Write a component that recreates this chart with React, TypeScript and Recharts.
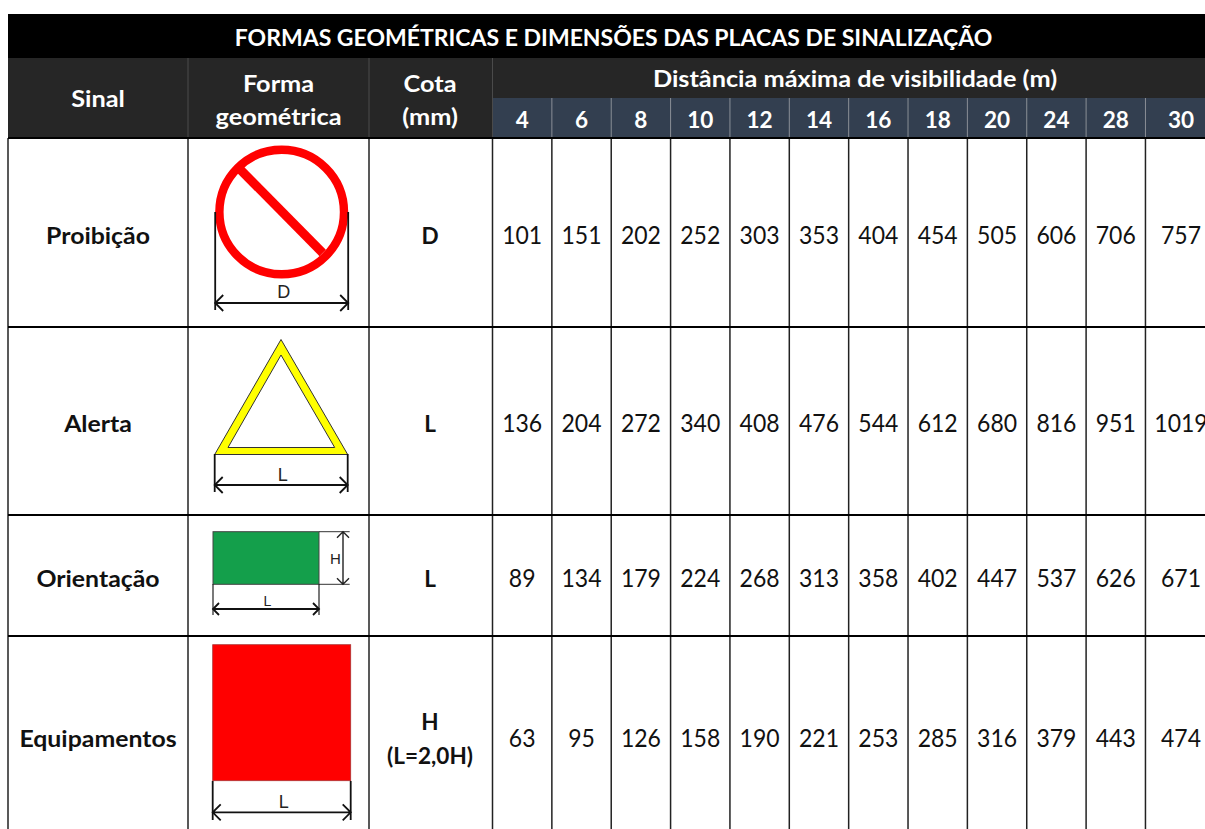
import React from 'react';
import { ScatterChart, Scatter, XAxis, YAxis, ReferenceArea, ReferenceLine } from 'recharts';

const title = 'FORMAS GEOMÉTRICAS E DIMENSÕES DAS PLACAS DE SINALIZAÇÃO';
const groupTitle = 'Distância máxima de visibilidade (m)';
const distances = [4, 6, 8, 10, 12, 14, 16, 18, 20, 24, 28, 30];
const signals = ['Proibição', 'Alerta', 'Orientação', 'Equipamentos'];
const shapes = ['circle', 'triangle', 'rect', 'square'];
const dimensions = [['D'], ['L'], ['L'], ['H', '(L=2,0H)']];

const proibicao = [101, 151, 202, 252, 303, 353, 404, 454, 505, 606, 706, 757];
const alerta = [136, 204, 272, 340, 408, 476, 544, 612, 680, 816, 951, 1019];
const orientacao = [89, 134, 179, 224, 268, 313, 358, 402, 447, 537, 626, 671];
const equipamentos = [63, 95, 126, 158, 190, 221, 253, 285, 316, 379, 443, 474];
const rows = [proibicao, alerta, orientacao, equipamentos];

// layout of the table, in page pixels (the axes run 1:1 with the page)
const W = 1205;
const H = 829;
const LEFT = 8;
const TOP = 14;
const TITLE_BOTTOM = 58;
const SUB_TOP = 98;
const HEAD_BOTTOM = 138;
const COL_SINAL = 188;
const COL_FORMA = 369;
const COL_COTA = 492.5;
const COL_W = 59.36;
const LAST_COL_CENTER = 1181; // last column runs past the crop
const ROW_LINES = [327, 515, 636];
const ROW_CENTERS = [235, 423, 578, 738];
const SIGN_Y = [212, 400, 558, 713];
const FONT = 'Lato, sans-serif';
const colCenter = (i: number) => (i === distances.length - 1 ? LAST_COL_CENTER : COL_COTA + COL_W * (i + 0.5));
const distLines = distances.map((_, i) => COL_COTA + COL_W * i);

type Style = { size: number; bold?: boolean; fill?: string; sx?: number };

const TextCell = (props: any) => {
  const { cx, cy, payload } = props;
  const s: Style = payload.style;
  return (
    <text
      transform={`translate(${cx},${cy}) scale(${s.sx ?? 1},1)`}
      textAnchor="middle"
      dominantBaseline="central"
      fontFamily={FONT}
      fontSize={s.size}
      fontWeight={s.bold ? 700 : 400}
      fill={s.fill ?? '#111'}
    >
      {payload.text}
    </text>
  );
};

const DimArrow = ({ x1, x2, y, head = 8 }: { x1: number; x2: number; y: number; head?: number }) => (
  <path
    d={`M${x1} ${y}H${x2}M${x1 + head} ${y - head}L${x1} ${y}L${x1 + head} ${y + head}M${x2 - head} ${y - head}L${x2} ${y}L${x2 - head} ${y + head}`}
    fill="none"
    stroke="#111"
    strokeWidth={1.8}
  />
);

const DimLabel = ({ x, y, size, children }: { x: number; y: number; size: number; children: string }) => (
  <text x={x} y={y} textAnchor="middle" dominantBaseline="central" fontFamily="Liberation Sans, Arial, sans-serif" fontSize={size} fill="#222">
    {children}
  </text>
);

const Sign = (props: any) => {
  const { cx, cy, payload } = props;
  let body = null;
  if (payload.kind === 'circle') {
    body = (
      <g>
        <circle r={62.3} fill="#fff" stroke="#f00" strokeWidth={8.4} />
        <path d="M-41 -42L41 41" stroke="#f00" strokeWidth={9} />
        <path d="M-66.5 0V98M66.5 0V98" stroke="#111" strokeWidth={1.8} fill="none" />
        <DimArrow x1={-66.5} x2={66.5} y={91} />
        <DimLabel x={2} y={80} size={18}>D</DimLabel>
      </g>
    );
  } else if (payload.kind === 'triangle') {
    body = (
      <g>
        <path fillRule="evenodd" d="M-0.7 -60.5L66 54.5H-67ZM-0.7 -45L53 47.5H-53.7Z" fill="#ff0" stroke="#333" strokeWidth={1} />
        <path d="M-67 54V92M66 54V92" stroke="#111" strokeWidth={1.8} fill="none" />
        <DimArrow x1={-67} x2={66} y={85} />
        <DimLabel x={1} y={75} size={18}>L</DimLabel>
      </g>
    );
  } else if (payload.kind === 'rect') {
    body = (
      <g>
        <rect x={-68.7} y={-26.3} width={106} height={52.6} fill="#149f4b" stroke="#444" strokeWidth={1} />
        <path d="M37.3 -26.3H68M37.3 26.3H68" stroke="#333" strokeWidth={1} fill="none" />
        <path d="M61.3 -26.3V26.3M55.3 -20.3L61.3 -26.3L67.3 -20.3M55.3 20.3L61.3 26.3L67.3 20.3" stroke="#222" strokeWidth={1.4} fill="none" />
        <path d="M-68.7 26V57M37.3 26V57" stroke="#222" strokeWidth={1.2} fill="none" />
        <DimArrow x1={-68.7} x2={37.3} y={51} head={6} />
        <DimLabel x={53.7} y={0} size={15}>H</DimLabel>
        <DimLabel x={-14.3} y={43} size={14}>L</DimLabel>
      </g>
    );
  } else {
    body = (
      <g>
        <rect x={-69} y={-68.3} width={138} height={136} fill="#f00" stroke="#a33" strokeWidth={0.8} />
        <path d="M-69 68V107M69 68V107" stroke="#111" strokeWidth={1.8} fill="none" />
        <DimArrow x1={-69} x2={69} y={99.3} />
        <DimLabel x={2} y={88.7} size={18}>L</DimLabel>
      </g>
    );
  }
  return <g transform={`translate(${cx},${cy})`}>{body}</g>;
};

const headStyle: Style = { size: 23, bold: true, fill: '#fff', sx: 1.1 };
const digitStyle: Style = { size: 23, bold: true, fill: '#fff', sx: 0.98 };
const labelStyle: Style = { size: 23, bold: true, sx: 1.08 };
const cotaStyle: Style = { size: 23, bold: true, sx: 0.98 };
const numStyle: Style = { size: 25, sx: 0.92 };

const textCells = [
  { x: 613.5, y: 37, text: title, style: { size: 23, bold: true, fill: '#fff', sx: 1.0 } },
  { x: 855, y: 78, text: groupTitle, style: headStyle },
  { x: 98, y: 98, text: 'Sinal', style: headStyle },
  { x: 278.5, y: 83, text: 'Forma', style: headStyle },
  { x: 278.5, y: 116, text: 'geométrica', style: headStyle },
  { x: 430, y: 83, text: 'Cota', style: headStyle },
  { x: 430, y: 116, text: '(mm)', style: headStyle },
  ...distances.map((d, i) => ({ x: colCenter(i), y: 119, text: String(d), style: digitStyle })),
  ...signals.map((s, i) => ({ x: 98, y: ROW_CENTERS[i], text: s, style: labelStyle })),
  ...dimensions.flatMap((lines, i) =>
    lines.map((t, j) => ({
      x: 430,
      y: ROW_CENTERS[i] + (lines.length > 1 ? (j === 0 ? -17 : 17) : 0),
      text: t,
      style: cotaStyle,
    })),
  ),
  ...rows.flatMap((vals, r) =>
    vals.map((v, i) => ({ x: colCenter(i), y: ROW_CENTERS[r] - 1, text: String(v), style: numStyle })),
  ),
];

const signCells = shapes.map((kind, i) => ({ x: 281.7, y: SIGN_Y[i], kind }));

export default function App() {
  return (
    <div style={{ position: 'fixed', left: 0, top: 0, width: W, height: H, overflow: 'hidden', background: '#fff' }}>
      <ScatterChart width={W} height={H} margin={{ top: 0, right: 0, bottom: 0, left: 0 }}>
        <XAxis type="number" dataKey="x" domain={[0, W]} hide />
        <YAxis type="number" dataKey="y" domain={[0, H]} reversed hide />

        <ReferenceArea x1={LEFT} x2={W} y1={TOP} y2={TITLE_BOTTOM} fill="#000" fillOpacity={1} stroke="none" />
        <ReferenceArea x1={LEFT} x2={W} y1={TITLE_BOTTOM} y2={HEAD_BOTTOM} fill="#262626" fillOpacity={1} stroke="none" />
        <ReferenceArea x1={COL_COTA} x2={W} y1={SUB_TOP} y2={HEAD_BOTTOM} fill="#333f50" fillOpacity={1} stroke="none" />

        {[COL_SINAL, COL_FORMA, COL_COTA].map((x) => (
          <ReferenceLine key={`h${x}`} segment={[{ x, y: TITLE_BOTTOM }, { x, y: HEAD_BOTTOM }]} stroke="#4a4a4a" strokeWidth={1} />
        ))}
        {distLines.slice(1).map((x) => (
          <ReferenceLine key={`s${x}`} segment={[{ x, y: SUB_TOP }, { x, y: HEAD_BOTTOM }]} stroke="#8a8f96" strokeWidth={1} />
        ))}
        {[LEFT, COL_SINAL, COL_FORMA, ...distLines].map((x) => (
          <ReferenceLine key={`b${x}`} segment={[{ x, y: HEAD_BOTTOM }, { x, y: H }]} stroke="#222" strokeWidth={1.5} />
        ))}
        {[HEAD_BOTTOM, ...ROW_LINES].map((y) => (
          <ReferenceLine key={`r${y}`} segment={[{ x: LEFT, y }, { x: W, y }]} stroke="#000" strokeWidth={2} />
        ))}

        <Scatter data={signCells} shape={Sign} isAnimationActive={false} />
        <Scatter data={textCells} shape={TextCell} isAnimationActive={false} />
      </ScatterChart>
    </div>
  );
}
